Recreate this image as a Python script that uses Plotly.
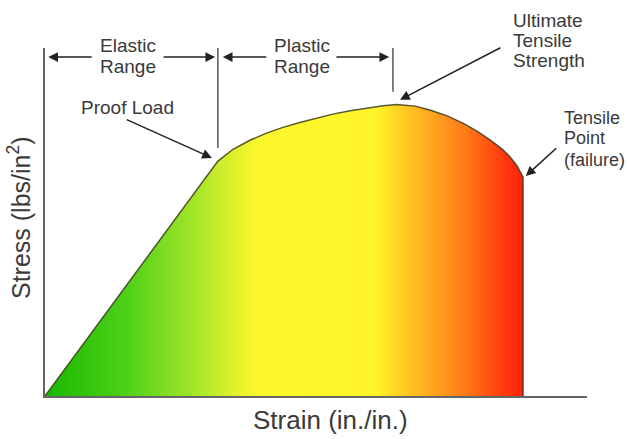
import plotly.graph_objects as go

# stress-strain curve (arbitrary units, 0-100)
strain = [0, 31.9, 34.7, 37.8, 41.0, 43.9, 47.0, 50.2, 53.1, 56.3, 59.4, 62.4, 64.9,
          68.3, 71.0, 74.2, 77.1, 79.7, 82.1, 84.3, 85.8, 87.1, 88.2, 88.2]
stress = [0, 67.5, 70.9, 73.5, 75.6, 77.2, 78.6, 79.9, 81.0, 82.0, 82.8, 83.4, 83.8,
          83.3, 82.2, 80.5, 78.4, 76.1, 73.6, 71.0, 68.7, 66.1, 62.9, 0]

proof_load = (31.9, 67.5)
uts = (64.9, 83.8)
failure = (88.2, 62.9)

grad_pos = [0, 0.18, 0.32, 0.41, 0.45, 0.69, 0.73, 0.80, 0.88, 0.95, 1.0]
grad_col = ["#17b800", "#52d21a", "#a8e62a", "#e8f22c", "#fdf82d", "#fff52a",
            "#ffd824", "#ffab1f", "#ff7a18", "#ff4010", "#ff220a"]

FONT = "Liberation Sans, Arial, sans-serif"
TXT = "#3a3a3a"
ARR = "#222222"

fig = go.Figure()
fig.add_trace(go.Scatter(
    x=strain, y=stress, mode="lines", fill="toself",
    fillgradient=dict(type="horizontal",
                      colorscale=[[p, c] for p, c in zip(grad_pos, grad_col)]),
    line=dict(color="rgba(60,60,30,0.85)", width=1.5),
    hoverinfo="skip", showlegend=False))

# dimension lines above the curve
fig.add_shape(type="line", x0=proof_load[0], x1=proof_load[0], y0=100, y1=71.3,
              line=dict(color="#555", width=1.5))
fig.add_shape(type="line", x0=uts[0] - 0.7, x1=uts[0] - 0.7, y0=100, y1=87.4,
              line=dict(color="#555", width=1.5))


def arrow(tail, tip):
    fig.add_annotation(x=tip[0], y=tip[1], ax=tail[0], ay=tail[1],
                       xref="x", yref="y", axref="x", ayref="y", text="",
                       showarrow=True, arrowhead=2, arrowsize=1.3,
                       arrowwidth=1.5, arrowcolor=ARR)


def label(x, y, s, anchor="center", size=19):
    # paper y so labels above the axis range are not hidden
    fig.add_annotation(x=x, y=y / 100, xref="x", yref="paper", text=s, showarrow=False,
                       xanchor=anchor, yanchor="middle",
                       font=dict(family=FONT, size=size, color=TXT))


# elastic range
arrow((8.9, 97.4), (0.6, 97.4))
arrow((21.6, 97.4), (31.4, 97.4))
label(15.3, 100.8, "Elastic")
label(15.3, 94.6, "Range")

# plastic range
arrow((41.1, 97.4), (32.8, 97.4))
arrow((53.5, 97.4), (63.5, 97.4))
label(47.4, 100.8, "Plastic")
label(47.4, 94.6, "Range")

# proof load
label(15.3, 82.8, "Proof Load")
arrow((14.8, 79.6), (30.8, 68.4))

# ultimate tensile strength
label(85.9, 108.0, "Ultimate", "left")
label(85.9, 102.1, "Tensile", "left")
label(85.9, 96.3, "Strength", "left")
arrow((84.3, 100.3), (65.5, 85.1))

# tensile point
label(95.3, 79.9, "Tensile", "left", 18)
label(95.3, 74.1, "Point", "left", 18)
label(95.3, 67.8, "(failure)", "left", 18)
arrow((94.6, 71.6), (88.7, 63.2))

# axis titles
fig.add_annotation(x=0, y=0.5, xref="paper", yref="paper", xshift=-26, yshift=4,
                   xanchor="center", yanchor="middle",
                   text="Stress (lbs/in<sup>2</sup>)", textangle=-90, showarrow=False,
                   font=dict(family=FONT, size=25, color=TXT))
fig.add_annotation(x=0.527, y=0, xref="paper", yref="paper", yshift=-24,
                   xanchor="center", yanchor="middle",
                   text="Strain (in./in.)", showarrow=False,
                   font=dict(family=FONT, size=26, color=TXT))

fig.update_xaxes(range=[0, 100], showline=True, linecolor="#666", linewidth=1.5,
                 showgrid=False, zeroline=False, showticklabels=False, ticks="")
fig.update_yaxes(range=[0, 100], showline=True, linecolor="#666", linewidth=1.5,
                 showgrid=False, zeroline=False, showticklabels=False, ticks="")
fig.update_layout(width=627, height=439, margin=dict(l=45, r=40, t=48, b=43),
                  plot_bgcolor="white", paper_bgcolor="white")

fig.write_html("out.html", config={"displayModeBar": False},
               post_script="document.body.style.margin='0';")
